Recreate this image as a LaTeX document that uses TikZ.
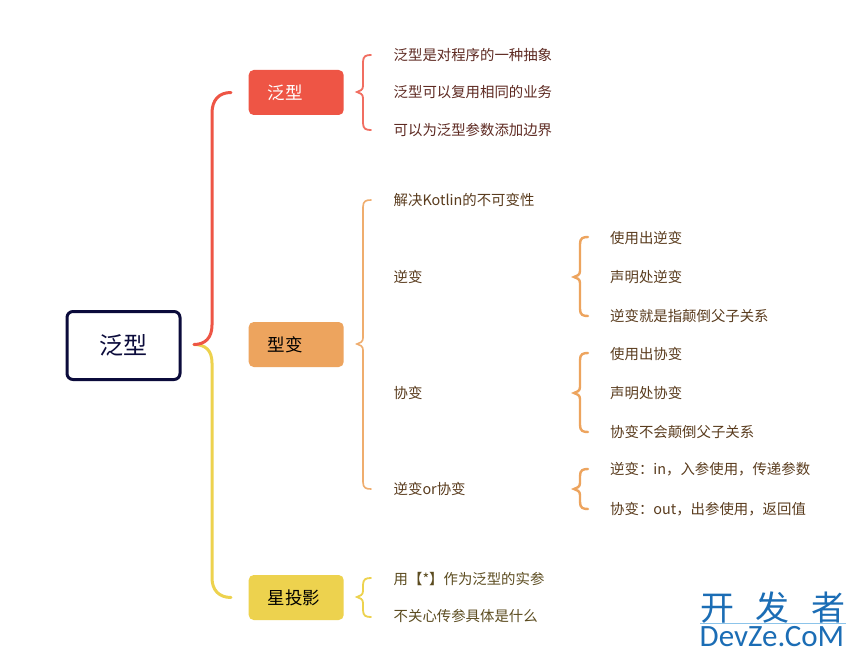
\documentclass[tikz,border=0pt]{standalone}
\usepackage{fontspec}
\setmainfont{Noto Sans CJK SC}
\newfontfamily\wmlatin{Carlito}
\definecolor{rootink}{HTML}{0B0B3B}
\definecolor{redc}{HTML}{EE5545}
\definecolor{orangec}{HTML}{EDA45E}
\definecolor{yellowc}{HTML}{EDD24E}
\definecolor{redtxt}{HTML}{5E2A22}
\definecolor{orgtxt}{HTML}{5A3C1E}
\definecolor{yeltxt}{HTML}{5C4C20}
\definecolor{wmblue}{HTML}{1B6DB5}
\definecolor{wmline}{HTML}{8CC4EA}
\newcommand{\mybrace}[6]{%
  \coordinate (#2tip) at (#3,#4);
  \coordinate (#2top) at (#3+14,#5);
  \coordinate (#2bot) at (#3+14,#6);
  \draw[#1,line cap=round] (#2top) .. controls (#3+9,#5) and (#3+6,#5+1) .. (#3+6,#5+7)
    -- (#3+6,#4-6) .. controls (#3+6,#4-2) and (#3+3,#4-1) .. (#2tip)
    .. controls (#3+3,#4+1) and (#3+6,#4+2) .. (#3+6,#4+6)
    -- (#3+6,#6-7) .. controls (#3+6,#6-1) and (#3+9,#6) .. (#2bot);
}
\tikzset{
  x=1pt,y=-1pt,
  branchbox/.style={rounded corners=5pt,minimum width=95pt,minimum height=45pt,
    anchor=west,inner xsep=19pt,inner ysep=0pt,text width=57pt,align=left,
    font=\fontsize{17.5}{20}\selectfont},
  leaf/.style={anchor=west,inner sep=0pt,font=\fontsize{14.4}{17}\selectfont},
  redleaf/.style={leaf,text=redtxt},
  orgleaf/.style={leaf,text=orgtxt},
  yelleaf/.style={leaf,text=yeltxt},
  trunk/.style={line width=3pt,line cap=round},
  bracered/.style={draw=redc!85!white,line width=1.8pt},
  braceorg/.style={draw=orangec!90!white,line width=1.6pt},
  braceorgb/.style={draw=orangec,line width=2.4pt},
  braceyel/.style={draw=yellowc,line width=1.8pt},
}
\begin{document}
\begin{tikzpicture}
\useasboundingbox[fill=white] (0,0) rectangle (856,658);
% root
\node[draw=rootink,line width=3pt,rounded corners=6pt,minimum width=113pt,minimum height=68pt,inner sep=0pt,
  font=\fontsize{24}{26}\selectfont,text=rootink] (root) at (123.5,345.5) {泛型};
% branches
\node[branchbox,fill=redc,text=white] (fx) at (248.5,92.5) {泛型};
\node[branchbox,fill=orangec,text=black] (xb) at (248.5,344.5) {型变};
\node[branchbox,fill=yellowc,text=black] (xty) at (248.5,597.5) {星投影};
% trunks
\coordinate (rootout) at (194,344.5);
\coordinate (fxin) at (231,92.5);
\coordinate (xtyin) at (231,597.5);
\draw[trunk,yellowc] (rootout) .. controls (205,344.5) and (212,350) .. (212,363) -- (212,578)
  .. controls (212,590) and (219,597.5) .. (xtyin);
\draw[trunk,redc] (rootout) .. controls (205,344.5) and (212,338) .. (212,325) -- (212,113)
  .. controls (212,100) and (219,92.5) .. (fxin);
% braces
\mybrace{bracered}{ba}{357}{92}{55}{130}
\mybrace{braceorg}{bb}{357}{344}{200}{489}
\mybrace{braceorgb}{bc}{574}{277}{237}{316}
\mybrace{braceorgb}{bd}{574}{393}{353}{432}
\mybrace{braceorgb}{be}{574}{489}{469}{509}
\mybrace{braceyel}{bf}{357}{597}{578}{617}
% leaves
\node[redleaf] (a1) at (393.5,55) {泛型是对程序的一种抽象};
\node[redleaf] (a2) at (393.5,92.5) {泛型可以复用相同的业务};
\node[redleaf] (a3) at (393.5,130) {可以为泛型参数添加边界};
\node[orgleaf] (b1) at (393.5,200) {解决Kotlin的不可变性};
\node[orgleaf] (b2) at (393.5,277) {逆变};
\node[orgleaf] (b3) at (393.5,393) {协变};
\node[orgleaf] (b4) at (393.5,489) {逆变or协变};
\node[orgleaf] (c1) at (610,238) {使用出逆变};
\node[orgleaf] (c2) at (610,277) {声明处逆变};
\node[orgleaf] (c3) at (610,316) {逆变就是指颠倒父子关系};
\node[orgleaf] (d1) at (610,354) {使用出协变};
\node[orgleaf] (d2) at (610,393) {声明处协变};
\node[orgleaf] (d3) at (610,432) {协变不会颠倒父子关系};
\node[orgleaf] (e1) at (610,469) {逆变：in，入参使用，传递参数};
\node[orgleaf] (e2) at (610,509) {协变：out，出参使用，返回值};
\node[yelleaf] (f1) at (393.5,579) {用【*】作为泛型的实参};
\node[yelleaf] (f2) at (393.5,616) {不关心传参具体是什么};
% watermark
\node[anchor=west,inner sep=0pt,text=wmblue,font=\fontsize{34}{36}\selectfont] (wm1) at (700,608)
  {开\hspace{21.5pt}发\hspace{21.5pt}者};
\draw[wmline,line width=0.8pt] (700,623.5) -- (846,623.5);
\node[anchor=west,inner sep=0pt,text=wmblue,font=\wmlatin\fontsize{31}{32}\selectfont] (wm2) at (699.5,637) {DevZe.CoM};
\end{tikzpicture}
\end{document}
